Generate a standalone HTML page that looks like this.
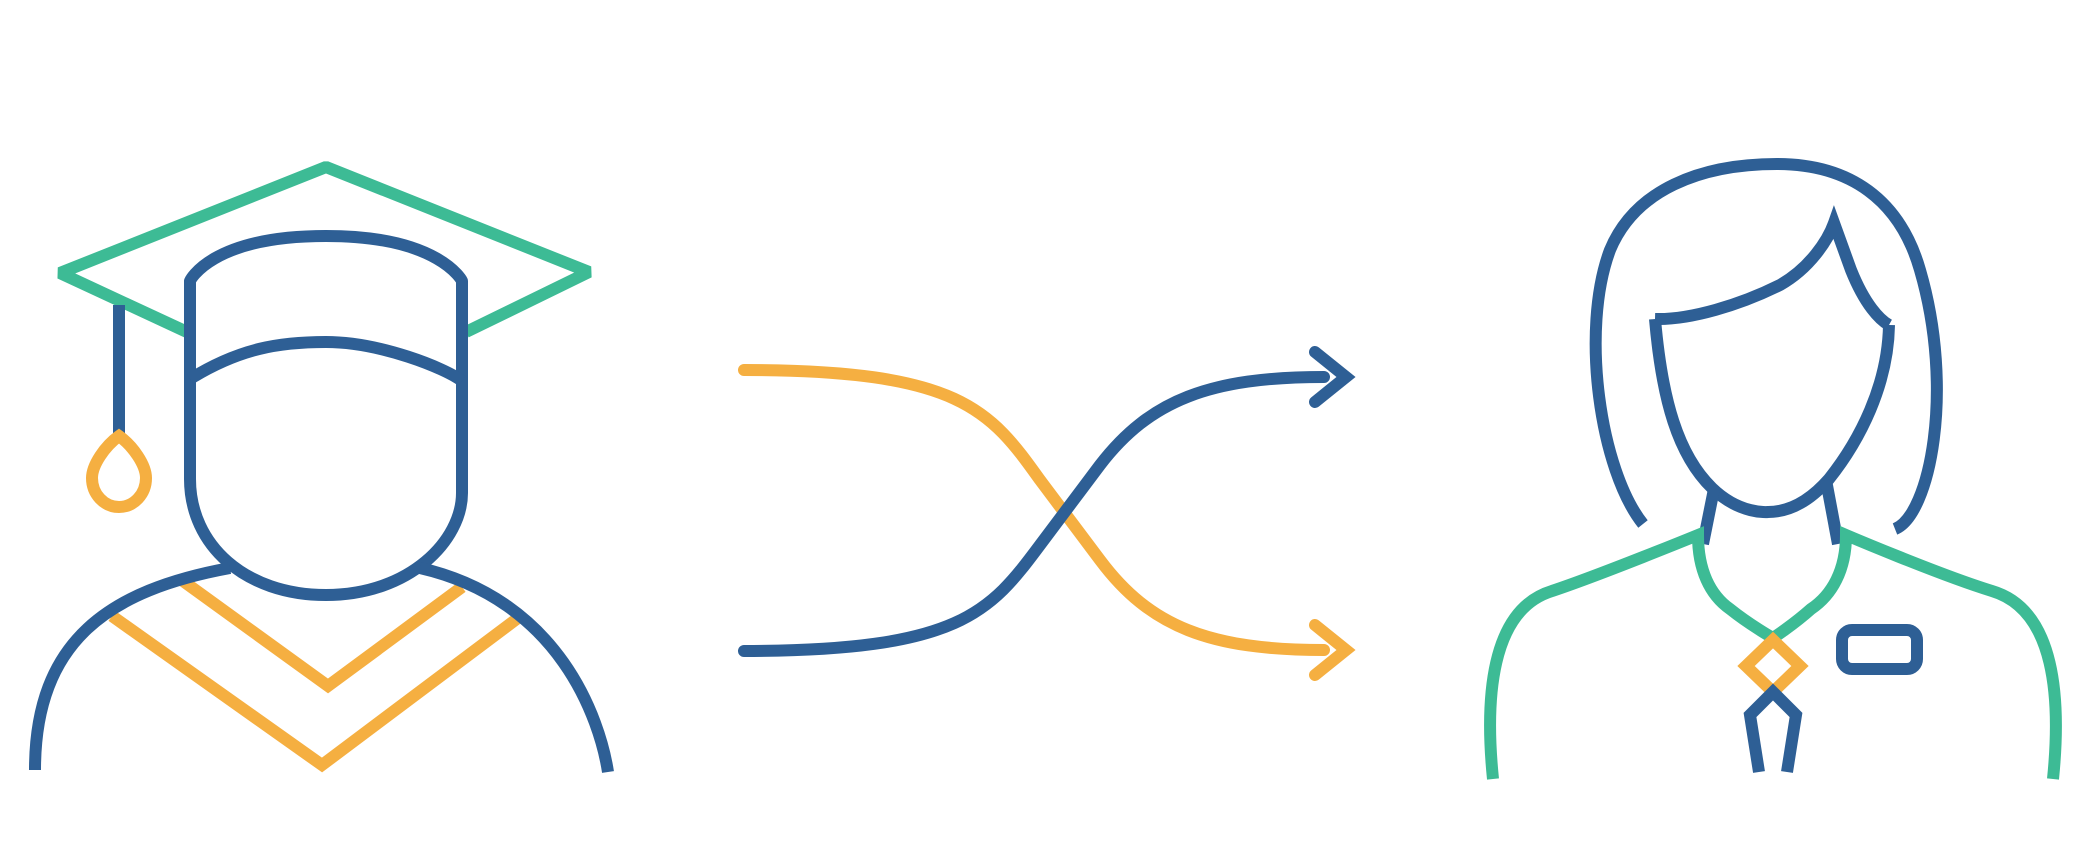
<!DOCTYPE html>
<html><head><style>html,body{margin:0;padding:0;background:#fff;}svg{display:block}</style></head>
<body>
<svg width="2083" height="868" viewBox="0 0 2083 868" xmlns="http://www.w3.org/2000/svg">
<g fill="none" stroke-width="12">
<!-- graduate -->
<polyline points="187,332 60,273 326,167 589,272 466,332" stroke="#3dbb95" stroke-linejoin="bevel"/>
<line x1="119" y1="305" x2="119" y2="433" stroke="#2e5f95"/>
<path d="M119,436 C105,446 92,465 92,478 C92,494 104,507 119,507 C134,507 146,494 146,478 C146,465 133,446 119,436 Z" stroke="#f5af41"/>
<path d="M190,281 L190,479 C190,545 245,595 326,595 C410,595 462,540 462,493 L462,281 C462,281 440,236 326,236 C210,236 190,281 190,281 Z" stroke="#2e5f95" stroke-linejoin="round"/>
<path d="M190,379 C240,348 280,342 326,342 C380,342 445,368 462,381" stroke="#2e5f95"/>
<polyline points="183,581 328,686 462,587" stroke="#f5af41"/>
<polyline points="112,616 322,765 518,618" stroke="#f5af41"/>
<path d="M35,770 C35,640 110,590 230,568" stroke="#2e5f95"/>
<path d="M420,568 C560,600 600,720 608,772" stroke="#2e5f95"/>
<!-- arrows -->
<path d="M744,370 C960,370 990,410 1040,480 L1100,560 C1150,627 1210,650 1324,650" stroke="#f5af41" stroke-linecap="round"/>
<polyline points="1315,625 1346,650 1315,675" stroke="#f5af41" stroke-linecap="round"/>
<path d="M744,651 C960,651 990,612 1040,545 L1100,465 C1150,400 1210,377 1324,377" stroke="#2e5f95" stroke-linecap="round"/>
<polyline points="1315,352 1346,377 1315,402" stroke="#2e5f95" stroke-linecap="round"/>
<!-- woman -->
<path d="M1643,524 C1600,470 1580,330 1610,250 C1635,190 1700,164 1777,164 C1850,164 1900,200 1920,270 C1955,390 1930,515 1895,529" stroke="#2e5f95"/>
<path d="M1655,319 C1690,320 1740,305 1780,285 C1810,268 1828,240 1834,223 L1851,270 C1865,305 1880,320 1889,325" stroke="#2e5f95"/>
<path d="M1655,319 C1662,400 1678,455 1712,488 C1740,515 1768,512 1768,512 C1795,512 1815,495 1829,479 C1860,440 1888,385 1889,325" stroke="#2e5f95"/>
<line x1="1714" y1="489" x2="1703" y2="544" stroke="#2e5f95"/>
<line x1="1826" y1="480" x2="1838" y2="544" stroke="#2e5f95"/>
<path d="M1493,779 C1485,700 1490,610 1552,591 C1600,575 1698,535 1698,535 C1698,570 1710,595 1730,609 C1750,625 1773,638 1773,638" stroke="#3dbb95"/>
<path d="M2053,779 C2061,700 2056,610 1992,591 C1940,575 1846,535 1846,535 C1846,570 1832,595 1811,609 C1793,625 1773,638 1773,638" stroke="#3dbb95"/>
<path d="M1773,640 L1800,666 L1773,692 L1746,666 Z" stroke="#f5af41"/>
<path d="M1759,772 L1750,715 L1773,692 L1796,715 L1787,772" stroke="#2e5f95"/>
<rect x="1842" y="630" width="75" height="39" rx="10" stroke="#2e5f95"/>
</g>
</svg>
</body></html>
